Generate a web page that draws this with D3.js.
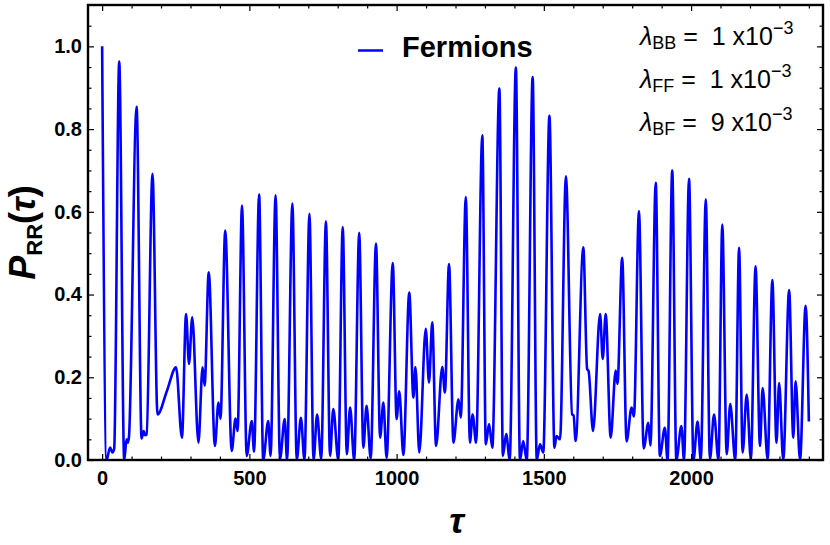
<!DOCTYPE html>
<html>
<head>
<meta charset="utf-8">
<script src="https://cdn.jsdelivr.net/npm/d3@7"></script>
<style>
    body { margin: 0; background: #fff; }
    text { font-family: "Liberation Sans", Arial, sans-serif; }
</style>
</head>
<body>
<script>
// Values: peaks, troughs and the small shoulders between them
var tau = [0, 15, 27, 35, 41, 58, 75, 83, 87, 91, 117, 134, 141, 146, 151, 171, 188, 220, 251, 271,
    285, 295, 306, 327, 341, 348, 362, 383, 395, 402, 418, 440, 453, 460, 475, 491, 508, 516, 533, 547,
    564, 572, 589, 604, 620, 628, 646, 661, 675, 687, 704, 718, 730, 744, 760, 774, 785, 802, 817, 831,
    842, 856, 873, 887, 898, 912, 930, 944, 955, 966, 987, 1000, 1009, 1023, 1043, 1057, 1064, 1077, 1099, 1110,
    1121, 1134, 1155, 1164, 1178, 1193, 1210, 1218, 1235, 1249, 1258, 1270, 1291, 1303, 1314, 1325, 1349, 1361, 1372, 1384,
    1405, 1419, 1430, 1442, 1462, 1476, 1487, 1498, 1519, 1536, 1543, 1555, 1575, 1596, 1601, 1608, 1634, 1647, 1652, 1667,
    1691, 1700, 1710, 1727, 1744, 1750, 1766, 1781, 1798, 1806, 1823, 1839, 1855, 1862, 1880, 1894, 1911, 1920, 1936, 1950,
    1967, 1976, 1993, 2008, 2022, 2033, 2050, 2064, 2078, 2093, 2106, 2121, 2133, 2150, 2163, 2175, 2189, 2203, 2219, 2234,
    2243, 2260, 2276, 2290, 2299, 2313, 2333, 2347, 2355, 2370, 2389, 2400];

var prob = [1.0, 0.0, 0.03, 0.018, 0.028, 0.963, 0.0, 0.05, 0.042, 0.055, 0.854, 0.052, 0.07, 0.06, 0.062, 0.692, 0.11, 0.167, 0.224, 0.054,
    0.353, 0.232, 0.345, 0.042, 0.224, 0.18, 0.454, 0.034, 0.139, 0.10, 0.555, 0.022, 0.10, 0.07, 0.615, 0.01, 0.094, 0.02, 0.642, 0.0,
    0.094, 0.01, 0.64, 0.003, 0.099, 0.0, 0.62, 0.0, 0.102, 0.0, 0.595, 0.0, 0.11, 0.003, 0.577, 0.01, 0.123, 0.0, 0.563, 0.014,
    0.127, 0.0, 0.549, 0.03, 0.131, 0.003, 0.523, 0.054, 0.139, 0.005, 0.476, 0.099, 0.166, 0.012, 0.405, 0.151, 0.225, 0.018, 0.317, 0.187,
    0.333, 0.034, 0.225, 0.163, 0.474, 0.042, 0.147, 0.103, 0.636, 0.042, 0.11, 0.042, 0.785, 0.038, 0.087, 0.03, 0.898, 0.01, 0.063, 0.002,
    0.949, 0.0, 0.046, 0.0, 0.926, 0.0, 0.038, 0.018, 0.832, 0.03, 0.058, 0.05, 0.686, 0.11, 0.108, 0.046, 0.514, 0.22, 0.215, 0.07,
    0.353, 0.244, 0.353, 0.054, 0.216, 0.184, 0.489, 0.045, 0.127, 0.105, 0.602, 0.028, 0.09, 0.035, 0.67, 0.01, 0.078, 0.0, 0.70, 0.0,
    0.082, 0.0, 0.68, 0.0, 0.093, 0.0, 0.63, 0.002, 0.11, 0.0, 0.569, 0.014, 0.135, 0.0, 0.513, 0.018, 0.158, 0.002, 0.468, 0.034,
    0.174, 0.002, 0.435, 0.042, 0.186, 0.0, 0.411, 0.054, 0.19, 0.0, 0.373, 0.093];

var xTicks = [0, 500, 1000, 1500, 2000];
var yTicks = [0, 0.2, 0.4, 0.6, 0.8, 1.0];
var seriesName = "Fermions";
var couplings = [
    { sub: "BB", mant: "1", exp: "\u22123" },
    { sub: "FF", mant: "1", exp: "\u22123" },
    { sub: "BF", mant: "9", exp: "\u22123" }
];

var width = 830, height = 545;
var frame = { left: 88, right: 823, top: 5, bottom: 460 };

var points = tau.map(function (t, i) { return { t: t, p: prob[i] }; });

var x = d3.scaleLinear().domain([-48, 2448]).range([frame.left, frame.right]);
var y = d3.scaleLinear().domain([0, 1.1]).range([frame.bottom, frame.top]);

var svg = d3.select("body").append("svg")
    .attr("width", width)
    .attr("height", height);

svg.append("defs").append("clipPath").attr("id", "plotClip")
    .append("rect")
    .attr("x", frame.left).attr("y", frame.top)
    .attr("width", frame.right - frame.left)
    .attr("height", frame.bottom - frame.top);

// the curve
var line = d3.line()
    .x(function (d) { return x(d.t); })
    .y(function (d) { return y(d.p); })
    .curve(d3.curveMonotoneX);

svg.append("path")
    .datum(points)
    .attr("clip-path", "url(#plotClip)")
    .attr("d", line)
    .attr("fill", "none")
    .attr("stroke", "#0000ff")
    .attr("stroke-width", 2.6)
    .attr("stroke-linejoin", "round");

// minor tick positions
var xMinor = d3.range(0, 2401, 100).filter(function (v) { return v % 500 !== 0; });
var yMinor = d3.range(0, 22).map(function (i) { return i * 0.05; })
    .filter(function (v) { return Math.abs(v * 5 - Math.round(v * 5)) > 1e-6; });

function addAxis(axis, tx, ty, cls) {
    var g = svg.append("g")
        .attr("class", cls)
        .attr("transform", "translate(" + tx + "," + ty + ")")
        .call(axis);
    g.select(".domain").remove();
    g.selectAll(".tick line").attr("stroke", "#000").attr("stroke-width", 1.2);
    return g;
}

// labelled axes
addAxis(d3.axisBottom(x).tickValues(xTicks).tickSize(-6).tickPadding(11).tickFormat(d3.format("d")),
    0, frame.bottom, "axis axis--x");
addAxis(d3.axisLeft(y).tickValues(yTicks).tickSize(-6).tickPadding(6).tickFormat(d3.format(".1f")),
    frame.left, 0, "axis axis--y");
svg.selectAll(".axis text")
    .attr("font-size", 20)
    .attr("font-weight", "bold")
    .attr("font-family", "'Liberation Sans', Arial, sans-serif")
    .attr("fill", "#000");

// mirrored and minor ticks
addAxis(d3.axisBottom(x).tickValues(xMinor).tickSize(-3.5).tickFormat(""), 0, frame.bottom, "minor");
addAxis(d3.axisLeft(y).tickValues(yMinor).tickSize(-3.5).tickFormat(""), frame.left, 0, "minor");
addAxis(d3.axisTop(x).tickValues(xTicks).tickSize(-6).tickFormat(""), 0, frame.top, "mirror");
addAxis(d3.axisTop(x).tickValues(xMinor).tickSize(-3.5).tickFormat(""), 0, frame.top, "mirror");
addAxis(d3.axisRight(y).tickValues(yTicks).tickSize(-6).tickFormat(""), frame.right, 0, "mirror");
addAxis(d3.axisRight(y).tickValues(yMinor).tickSize(-3.5).tickFormat(""), frame.right, 0, "mirror");

// frame
svg.append("rect")
    .attr("x", frame.left).attr("y", frame.top)
    .attr("width", frame.right - frame.left)
    .attr("height", frame.bottom - frame.top)
    .attr("fill", "none")
    .attr("stroke", "#000")
    .attr("stroke-width", 2.4);

// axis titles
svg.append("text")
    .attr("x", (frame.left + frame.right) / 2 + 1)
    .attr("y", 533)
    .attr("text-anchor", "middle")
    .attr("font-size", 36)
    .attr("font-weight", "bold")
    .attr("font-style", "italic")
    .text("\u03c4");

var yTitle = svg.append("text")
    .attr("transform", "translate(35," + ((frame.top + frame.bottom) / 2) + ") rotate(-90)")
    .attr("text-anchor", "middle")
    .attr("font-size", 36)
    .attr("font-weight", "bold");
yTitle.append("tspan").attr("font-style", "italic").text("P");
yTitle.append("tspan").attr("font-size", 22).attr("dy", 7).text("RR");
yTitle.append("tspan").attr("dy", -7).text("(");
yTitle.append("tspan").attr("font-style", "italic").text("\u03c4");
yTitle.append("tspan").text(")");

// legend
svg.append("line")
    .attr("x1", 358).attr("x2", 383)
    .attr("y1", 50.5).attr("y2", 50.5)
    .attr("stroke", "#0000ff")
    .attr("stroke-width", 2.5);
svg.append("text")
    .attr("x", 402).attr("y", 57)
    .attr("font-size", 29)
    .attr("font-weight", "bold")
    .text(seriesName);

// coupling constants
couplings.forEach(function (c, i) {
    var t = svg.append("text")
        .attr("x", 640)
        .attr("y", 45 + i * 43)
        .attr("font-size", 25)
        .style("white-space", "pre");
    t.append("tspan").attr("font-style", "italic").text("\u03bb");
    t.append("tspan").attr("font-size", 18).attr("dy", 4).text(c.sub);
    t.append("tspan").attr("dy", -4).text(" =  " + c.mant + " x10");
    t.append("tspan").attr("font-size", 18).attr("dy", -11).text(c.exp);
});
</script>
</body>
</html>
